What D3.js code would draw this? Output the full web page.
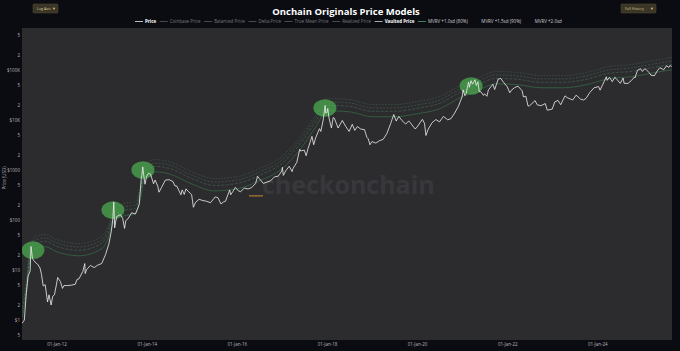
<!DOCTYPE html>
<html>
<head>
<meta charset="utf-8">
<script src="https://cdn.jsdelivr.net/npm/d3@7"></script>
<style>
  body { margin: 0; background: #0b0b12; }
  svg { display: block; font-family: "Open Sans", "DejaVu Sans", sans-serif; }
</style>
</head>
<body>
<svg id="chart" width="680" height="351"></svg>
<script>
/////////////////// DATA ///////////////////

// BTC price (date, USD)
var priceSeries = [
    ["2011-03-27", 0.86], ["2011-04-15", 1.0], ["2011-05-01", 3.5], ["2011-05-15", 7.5], ["2011-06-01", 9.6],
    ["2011-06-08", 29.6], ["2011-06-20", 17], ["2011-07-01", 15.4], ["2011-07-20", 13.7], ["2011-08-01", 13.1],
    ["2011-08-20", 11], ["2011-09-01", 8.2], ["2011-09-15", 4.8], ["2011-10-01", 5.1], ["2011-10-20", 2.3],
    ["2011-11-01", 3.2], ["2011-11-18", 2.0], ["2011-12-01", 3.0], ["2011-12-15", 3.2],
    ["2012-01-01", 5.3], ["2012-01-10", 7.1], ["2012-02-01", 5.9], ["2012-02-18", 4.3], ["2012-03-01", 4.9],
    ["2012-04-01", 4.9], ["2012-05-01", 5.0], ["2012-06-01", 5.2], ["2012-06-15", 6.5], ["2012-07-01", 6.7],
    ["2012-08-01", 9.4], ["2012-08-17", 13.5], ["2012-08-20", 8.5], ["2012-09-01", 10.2], ["2012-10-01", 12.4],
    ["2012-11-01", 11.2], ["2012-12-01", 12.6],
    ["2013-01-01", 13.5], ["2013-02-01", 20.4], ["2013-03-01", 34], ["2013-03-20", 60], ["2013-04-01", 104],
    ["2013-04-09", 230], ["2013-04-16", 70], ["2013-05-01", 116], ["2013-06-01", 129], ["2013-06-20", 108],
    ["2013-07-05", 68], ["2013-07-15", 97], ["2013-08-01", 105], ["2013-09-01", 140], ["2013-10-01", 132],
    ["2013-11-01", 204], ["2013-11-18", 700], ["2013-11-22", 780], ["2013-11-30", 1150], ["2013-12-07", 800],
    ["2013-12-18", 520], ["2013-12-31", 750],
    ["2014-01-15", 860], ["2014-02-01", 830], ["2014-02-25", 530], ["2014-03-10", 630], ["2014-04-01", 470],
    ["2014-04-10", 360], ["2014-05-01", 450], ["2014-06-01", 630], ["2014-07-01", 640], ["2014-08-01", 590],
    ["2014-08-18", 480], ["2014-09-01", 480], ["2014-10-05", 320], ["2014-10-15", 400], ["2014-11-01", 325],
    ["2014-11-15", 420], ["2014-12-01", 380], ["2014-12-31", 320],
    ["2015-01-14", 180], ["2015-02-01", 226], ["2015-03-01", 260], ["2015-04-01", 245], ["2015-05-01", 237],
    ["2015-06-01", 222], ["2015-07-10", 290], ["2015-08-01", 280], ["2015-08-25", 210], ["2015-09-15", 230],
    ["2015-10-01", 237], ["2015-11-04", 400], ["2015-11-12", 320], ["2015-12-01", 375], ["2015-12-20", 450],
    ["2016-01-15", 380], ["2016-02-01", 370], ["2016-03-01", 435], ["2016-04-01", 417], ["2016-05-01", 448],
    ["2016-06-01", 536], ["2016-06-17", 750], ["2016-07-01", 676], ["2016-08-02", 540], ["2016-09-01", 572],
    ["2016-10-01", 609], ["2016-11-01", 730], ["2016-12-01", 752], ["2016-12-31", 960],
    ["2017-01-04", 1130], ["2017-01-12", 780], ["2017-02-01", 970], ["2017-03-01", 1190], ["2017-03-24", 930],
    ["2017-04-01", 1080], ["2017-05-01", 1420], ["2017-05-25", 2600], ["2017-06-01", 2400], ["2017-07-01", 2500],
    ["2017-07-16", 1930], ["2017-08-01", 2720], ["2017-09-01", 4700], ["2017-09-15", 3200], ["2017-10-01", 4400],
    ["2017-11-01", 6700], ["2017-11-12", 5900], ["2017-12-01", 10000], ["2017-12-17", 19500], ["2017-12-22", 13800],
    ["2017-12-31", 14000],
    ["2018-01-07", 17000], ["2018-01-17", 11000], ["2018-02-06", 6900], ["2018-02-20", 11200], ["2018-03-01", 10900],
    ["2018-04-01", 6900], ["2018-05-05", 9800], ["2018-06-01", 7500], ["2018-06-29", 5900], ["2018-07-25", 8200],
    ["2018-08-14", 6200], ["2018-09-04", 7400], ["2018-10-01", 6600], ["2018-11-01", 6400], ["2018-11-20", 4500],
    ["2018-12-01", 4200], ["2018-12-15", 3200], ["2018-12-31", 3700],
    ["2019-02-01", 3450], ["2019-03-01", 3850], ["2019-04-01", 4100], ["2019-05-01", 5350], ["2019-06-01", 8500],
    ["2019-06-26", 12900], ["2019-07-16", 9500], ["2019-08-06", 11800], ["2019-09-01", 9700], ["2019-10-01", 8300],
    ["2019-10-26", 9600], ["2019-11-01", 9200], ["2019-12-17", 6600], ["2019-12-31", 7200],
    ["2020-02-13", 10300], ["2020-03-01", 8600], ["2020-03-13", 4900], ["2020-04-01", 6600], ["2020-05-01", 8800],
    ["2020-06-01", 10200], ["2020-07-01", 9200], ["2020-08-01", 11800], ["2020-09-05", 10100], ["2020-10-01", 10600],
    ["2020-11-01", 13800], ["2020-12-01", 18800], ["2020-12-31", 29000],
    ["2021-01-08", 40000], ["2021-01-22", 30800], ["2021-02-01", 33500], ["2021-02-21", 57500], ["2021-02-28", 45000],
    ["2021-03-13", 61000], ["2021-03-25", 52000], ["2021-04-14", 63500], ["2021-04-25", 49000], ["2021-05-08", 58000],
    ["2021-05-19", 37000], ["2021-06-01", 36700], ["2021-06-22", 31000], ["2021-07-01", 33500], ["2021-07-20", 29800],
    ["2021-08-01", 39900], ["2021-09-06", 51800], ["2021-09-21", 40600], ["2021-10-01", 48200], ["2021-10-20", 66000],
    ["2021-11-09", 67500], ["2021-12-01", 56900], ["2021-12-31", 46300],
    ["2022-01-22", 35000], ["2022-02-01", 38700], ["2022-03-01", 44400], ["2022-03-29", 47400], ["2022-05-01", 38500],
    ["2022-05-12", 28900], ["2022-06-01", 29800], ["2022-06-18", 19000], ["2022-07-01", 19300], ["2022-08-14", 24400],
    ["2022-09-01", 20100], ["2022-10-01", 19300], ["2022-11-05", 21300], ["2022-11-21", 15700], ["2022-12-31", 16500],
    ["2023-01-21", 23000], ["2023-02-16", 24600], ["2023-03-10", 20200], ["2023-04-14", 30400], ["2023-05-01", 28000],
    ["2023-06-15", 25100], ["2023-07-13", 31400], ["2023-08-18", 26100], ["2023-09-11", 25100], ["2023-10-01", 27000],
    ["2023-11-01", 35400], ["2023-12-05", 44000],
    ["2024-01-11", 46600], ["2024-01-23", 39500], ["2024-02-15", 52000], ["2024-03-14", 73100], ["2024-03-20", 62000],
    ["2024-04-08", 71600], ["2024-05-01", 58300], ["2024-05-21", 71400], ["2024-06-01", 67600], ["2024-07-05", 54000],
    ["2024-07-28", 69000], ["2024-08-05", 54000], ["2024-09-06", 53900], ["2024-10-01", 61000], ["2024-10-29", 72500],
    ["2024-11-01", 69500], ["2024-11-22", 99000], ["2024-12-17", 106000], ["2024-12-31", 93500],
    ["2025-01-20", 106000], ["2025-02-01", 100600], ["2025-03-01", 86000], ["2025-03-10", 78500], ["2025-04-08", 77000],
    ["2025-05-01", 96500], ["2025-05-22", 111000], ["2025-06-22", 101000], ["2025-07-14", 121000], ["2025-08-02", 113000],
    ["2025-08-14", 123000], ["2025-08-24", 115000]
];

// model band dates and values (USD)
var bandDates = [
    "2011-03-27", "2011-05-01", "2011-06-01", "2011-07-15", "2011-10-01", "2012-01-01", "2012-07-01", "2013-01-01",
    "2013-02-15", "2013-04-15", "2013-07-01", "2013-10-01", "2013-11-15", "2013-12-15", "2014-03-15", "2014-07-01",
    "2015-01-01", "2015-07-01", "2016-01-01", "2016-07-01", "2017-01-01", "2017-06-01", "2017-10-01", "2018-01-01",
    "2018-07-01", "2019-01-01", "2019-07-01", "2020-01-01", "2020-07-01", "2021-01-01", "2021-04-01", "2021-10-01",
    "2022-04-01", "2022-10-01", "2023-04-01", "2023-10-01", "2024-04-01", "2024-10-01", "2025-04-01", "2025-08-28"
];
var mvrv20 = [
    1.87, 5.85, 29.3, 46.8, 51.5, 41, 33.9, 46.8,
    67.9, 170, 213, 234, 527, 1287, 1615, 1474,
    924, 673, 737, 1065, 1860, 4657, 12753, 26793,
    25623, 20358, 20358, 23342, 29367, 51129, 61425, 92898,
    88803, 77337, 77337, 88803, 117000, 128232, 154206, 177138
];
var mvrv15 = [
    1.6, 5, 25, 40, 44, 35, 29, 40,
    58, 145, 182, 200, 450, 1100, 1380, 1260,
    790, 575, 630, 910, 1590, 3980, 10900, 22900,
    21900, 17400, 17400, 19950, 25100, 43700, 52500, 79400,
    75900, 66100, 66100, 75900, 100000, 109600, 131800, 151400
];
var mvrv10 = [
    1.37, 4.27, 21.4, 34.2, 37.6, 29.9, 24.8, 34.2,
    49.6, 124, 156, 171, 385, 940, 1179, 1077,
    675, 491, 538, 778, 1359, 3402, 9316, 19573,
    18718, 14872, 14872, 17051, 21453, 37350, 44872, 67863,
    64872, 56496, 56496, 64872, 85470, 93675, 112650, 129402
];
var vaultedPrice = [
    1.07, 3.33, 16.7, 26.7, 29.3, 23.3, 19.3, 26.7,
    38.7, 96.7, 121, 133, 300, 733, 920, 840,
    527, 383, 420, 607, 1060, 2653, 7267, 15267,
    14600, 11600, 11600, 13300, 16733, 29133, 35000, 52933,
    50600, 44067, 44067, 50600, 66667, 73067, 87867, 100933
];

// cycle tops highlighted with green circles
var cycleTopDates = ["2011-06-24", "2013-04-02", "2013-12-01", "2017-12-15", "2021-03-14"];
var cycleTopPrices = [25, 158, 1000, 17400, 47900];

// axis ticks
var yTickValues = [0.5, 1, 2, 5, 10, 20, 50, 100, 200, 500, 1000, 2000, 5000, 10000, 20000, 50000, 100000, 200000, 500000];
var yTickLabels = ["5", "$1", "2", "5", "$10", "2", "5", "$100", "2", "5", "$1000", "2", "5", "$10K", "2", "5", "$100K", "2", "5"];
var xTickDates = ["2012-01-01", "2014-01-01", "2016-01-01", "2018-01-01", "2020-01-01", "2022-01-01", "2024-01-01"];

// legend
var legendLabels = ["Price", "Coinbase Price", "Balanced Price", "Delta Price", "True Mean Price", "Realized Price",
    "Vaulted Price", "MVRV +1.0sd (80%)", "MVRV +1.5sd (90%)", "MVRV +2.0sd (95%)"];

/////////////////// CHART ///////////////////

var parseDate = d3.timeParse("%Y-%m-%d");
var svg = d3.select("#chart");

var plot = { left: 22, right: 672, top: 28, bottom: 340 };

var x = d3.scaleTime()
    .domain([parseDate("2011-03-27"), parseDate("2025-08-28")])
    .range([plot.left, plot.right]);
var y = d3.scaleLog()
    .domain([0.4, 690000])
    .range([plot.bottom, plot.top]);

// plot background
svg.append("rect")
    .attr("x", plot.left).attr("y", plot.top)
    .attr("width", plot.right - plot.left).attr("height", plot.bottom - plot.top)
    .attr("fill", "#2c2c2f");

svg.append("clipPath").attr("id", "plotClip")
    .append("rect")
    .attr("x", plot.left).attr("y", plot.top)
    .attr("width", plot.right - plot.left).attr("height", plot.bottom - plot.top);

// watermark
svg.append("rect")
    .attr("x", 249).attr("y", 195).attr("width", 14).attr("height", 1.6)
    .attr("fill", "#8a6a32");
svg.append("text")
    .attr("x", 262).attr("y", 194)
    .text("checkonchain")
    .style("font-size", "25px")
    .style("font-weight", "bold")
    .style("fill", "#38383c");

var g = svg.append("g").attr("clip-path", "url(#plotClip)");

// bands
var bandRows = bandDates.map(function (d, i) {
    return { date: parseDate(d), v: vaultedPrice[i], m10: mvrv10[i], m15: mvrv15[i], m20: mvrv20[i] };
});
function bandLine(key) {
    return d3.line()
        .curve(d3.curveMonotoneX)
        .x(function (d) { return x(d.date); })
        .y(function (d) { return y(d[key]); });
}
g.append("path").datum(bandRows)
    .attr("d", bandLine("v"))
    .attr("fill", "none").attr("stroke", "#3f9b58").attr("stroke-width", 0.7).attr("opacity", 0.6);
g.append("path").datum(bandRows)
    .attr("d", bandLine("m10"))
    .attr("fill", "none").attr("stroke", "#5a9a70").attr("stroke-width", 0.6)
    .attr("stroke-dasharray", "3,1.5").attr("opacity", 0.55);
g.append("path").datum(bandRows)
    .attr("d", bandLine("m15"))
    .attr("fill", "none").attr("stroke", "#5a9a70").attr("stroke-width", 0.6)
    .attr("stroke-dasharray", "2,1.5").attr("opacity", 0.5);
g.append("path").datum(bandRows)
    .attr("d", bandLine("m20"))
    .attr("fill", "none").attr("stroke", "#5a9a70").attr("stroke-width", 0.6)
    .attr("stroke-dasharray", "1.5,1.5").attr("opacity", 0.45);

// cycle top highlights
g.selectAll(".top")
    .data(cycleTopDates)
    .enter().append("ellipse")
    .attr("class", "top")
    .attr("cx", function (d) { return x(parseDate(d)); })
    .attr("cy", function (d, i) { return y(cycleTopPrices[i]); })
    .attr("rx", 11.5).attr("ry", 8.8)
    .attr("fill", "#4caf50").attr("opacity", 0.72);

// price
var priceLine = d3.line()
    .x(function (d) { return x(parseDate(d[0])); })
    .y(function (d) { return y(d[1]); });
g.append("path").datum(priceSeries)
    .attr("d", priceLine)
    .attr("fill", "none").attr("stroke", "#f0f0f0").attr("stroke-width", 0.8)
    .attr("stroke-linejoin", "round");

// axes
var yAxis = d3.axisLeft(y)
    .tickValues(yTickValues)
    .tickFormat(function (d, i) { return yTickLabels[i]; })
    .tickSize(0).tickPadding(2);
svg.append("g")
    .attr("transform", "translate(" + plot.left + ",0)")
    .call(yAxis)
    .call(function (a) { a.select(".domain").remove(); })
    .selectAll("text")
    .style("font-size", "4.5px").style("fill", "#b8b8b8").style("font-family", "Open Sans, sans-serif");

var xAxis = d3.axisBottom(x)
    .tickValues(xTickDates.map(parseDate))
    .tickFormat(d3.timeFormat("%d-%b-%y"))
    .tickSize(0).tickPadding(3);
svg.append("g")
    .attr("transform", "translate(0," + plot.bottom + ")")
    .call(xAxis)
    .call(function (a) { a.select(".domain").remove(); })
    .selectAll("text")
    .style("font-size", "4.5px").style("fill", "#b8b8b8").style("font-family", "Open Sans, sans-serif");

// y title
svg.append("text")
    .attr("transform", "translate(6,178) rotate(-90)")
    .attr("text-anchor", "middle")
    .text("Price (USD)")
    .style("font-size", "4.5px")
    .style("fill", "#b8b8b8");

// title
svg.append("text")
    .attr("x", 346).attr("y", 15)
    .attr("text-anchor", "middle")
    .text("Onchain Originals Price Models")
    .style("font-size", "9.5px")
    .style("font-weight", "bold")
    .style("fill", "#ffffff");

// legend
svg.append("clipPath").attr("id", "legendClip")
    .append("rect").attr("x", 120).attr("y", 16).attr("width", 442).attr("height", 10);
var legend = svg.append("g").attr("clip-path", "url(#legendClip)");
var legendText = ["#ffffff", "#7a7a7a", "#7a7a7a", "#7a7a7a", "#7a7a7a", "#7a7a7a", "#ffffff", "#d0d0d0", "#d0d0d0", "#d0d0d0"];
var legendStroke = ["#ececec", "#5a5a5a", "#5a5a5a", "#5a5a5a", "#5a5a5a", "#5a5a5a", "#d0d0d0", "#5a9a70", "#0b0b12", "#0b0b12"];
var lx = 135;
legendLabels.forEach(function (label, i) {
    legend.append("line")
        .attr("x1", lx).attr("x2", lx + 8).attr("y1", 21.5).attr("y2", 21.5)
        .attr("stroke", legendStroke[i]).attr("stroke-width", 0.8);
    var t = legend.append("text")
        .attr("x", lx + 10).attr("y", 23.2)
        .text(label)
        .style("font-size", "4.5px")
        .style("font-weight", (i === 0 || i === 6) ? "bold" : "normal")
        .style("fill", legendText[i]);
    lx += 10 + t.node().getComputedTextLength() + 3.5;
});

// buttons
function button(bx, bw, label) {
    svg.append("rect")
        .attr("x", bx).attr("y", 4).attr("width", bw).attr("height", 9).attr("rx", 1)
        .attr("fill", "#3a3527").attr("stroke", "#55502f").attr("stroke-width", 0.5);
    svg.append("text")
        .attr("x", bx + 4).attr("y", 10)
        .text(label)
        .style("font-size", "3.6px")
        .style("fill", "#d9c98e");
    svg.append("text")
        .attr("x", bx + bw - 4).attr("y", 10)
        .attr("text-anchor", "middle")
        .text("▾")
        .style("font-size", "4.5px")
        .style("fill", "#d9c98e");
}
button(33, 25, "Log Axis");
button(621, 35, "Full History");
</script>
</body>
</html>
